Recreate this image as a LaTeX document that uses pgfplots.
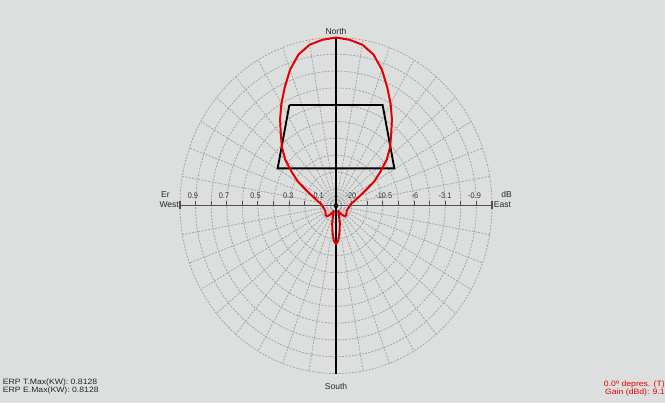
\documentclass[border=0pt]{standalone}
\usepackage{fontspec}
\setmainfont{Liberation Sans}
\newfontfamily\widef[FakeStretch=1.12]{Liberation Sans}
\newfontfamily\narrowf[FakeStretch=0.9]{Liberation Sans}
\usepackage{pgfplots}
\pgfplotsset{compat=1.18}
\definecolor{bg}{RGB}{221,223,223}
\definecolor{gridc}{RGB}{165,165,165}
\definecolor{pat}{RGB}{228,0,0}
\definecolor{axc}{RGB}{80,80,80}
\begin{document}
\begin{tikzpicture}
\begin{axis}[
  width=498.75pt, height=302.25pt, scale only axis,
  xmin=-2.1538, xmax=2.1090, ymin=-1.1756, ymax=1.2232,
  axis lines=none, ticks=none, clip=false,
]
\fill[bg] (rel axis cs:0,0) rectangle (rel axis cs:1,1);
% grid circles
\pgfplotsinvokeforeach{0.1,0.2,0.3,0.4,0.5,0.6,0.7,0.8,0.9,1.0}{
  \draw[gridc, line width=0.6pt, dash pattern=on 1.5pt off 1pt] (axis cs:0,0) ellipse [x radius=#1, y radius=#1];
}
% radial lines
\pgfplotsinvokeforeach{10,20,30,40,50,60,70,80,100,110,120,130,140,150,160,170,190,200,210,220,230,240,250,260,280,290,300,310,320,330,340,350}{
  \draw[gridc, line width=0.6pt, dash pattern=on 1.5pt off 1pt] (axis cs:{0.03*cos(#1)},{0.03*sin(#1)}) -- (axis cs:{cos(#1)},{sin(#1)});
}
% horizontal axis
\draw[axc, line width=1.4pt] (axis cs:-1,0) -- (axis cs:1,0);
\pgfplotsinvokeforeach{-0.9,-0.8,-0.7,-0.6,-0.5,-0.4,-0.3,-0.2,-0.1,0.1,0.2,0.3,0.4,0.5,0.6,0.7,0.8,0.9}{
  \draw[axc, line width=0.75pt] (axis cs:#1,0) -- ++(0pt,3.5pt);
}
\draw[axc, line width=0.9pt] (axis cs:-1,0) ++(0pt,-3pt) -- ++(0pt,6.5pt);
\draw[axc, line width=0.9pt] (axis cs:1,0) ++(0pt,-3pt) -- ++(0pt,6.5pt);
% vertical axis
\draw[black, line width=0.8pt] (axis cs:0,1) -- (axis cs:0,-1);
% mask
\addplot[black, line width=1.4pt] coordinates {(-0.299,0.598) (0.299,0.598) (0.374,0.221) (-0.374,0.221) (-0.299,0.598)};
% pattern
\addplot[pat, line width=1.5pt, data cs=polar, line join=round] coordinates {
(0,0.09) (5,0.095) (10,0.11) (15,0.13) (20,0.16) (25,0.205) (30,0.28) (35,0.345) (40,0.425) (45,0.49) (50,0.55) (55,0.625) (60,0.70) (65,0.777) (70,0.86) (75,0.93) (80,0.972) (85,0.99) (90,1.0)
(95,0.99) (100,0.972) (105,0.93) (110,0.86) (115,0.777) (120,0.70) (125,0.625) (130,0.55) (135,0.49) (140,0.425) (145,0.345) (150,0.28) (155,0.205) (160,0.16) (165,0.13) (170,0.11) (175,0.095) (180,0.09)
(192,0.08) (205,0.075) (218,0.085) (228,0.088) (238,0.06) (246,0.035) (252,0.06) (257,0.11) (262,0.16) (266,0.21) (270,0.23) (274,0.21) (278,0.16) (283,0.11) (288,0.06) (294,0.035) (302,0.06) (312,0.088) (322,0.085) (335,0.075) (348,0.08) (360,0.09)
};
\addplot[black, only marks, mark=*, mark size=1.6pt] coordinates {(0,0)};
% labels
\tikzset{lbl/.style={inner sep=0pt, font=\fontsize{6.4pt}{7pt}\selectfont, text=black!85}}
\tikzset{tl/.style={inner sep=0pt, anchor=base, font=\narrowf\fontsize{6.1pt}{7pt}\selectfont, text=black!80}}
\node[lbl, anchor=base] at (axis cs:0,1.019) {North};
\node[lbl, anchor=base] at (axis cs:0,-1.098) {South};
\node[lbl, anchor=base west] at (axis cs:-1.122,0.048) {Er};
\node[lbl, anchor=base east] at (axis cs:-1.006,-0.009) {West};
\node[lbl, anchor=base west] at (axis cs:1.058,0.048) {dB};
\node[lbl, anchor=base west] at (axis cs:1.010,-0.009) {East};
\node[tl] at (axis cs:-0.917,0.043) {0.9};
\node[tl] at (axis cs:-0.718,0.043) {0.7};
\node[tl] at (axis cs:-0.516,0.043) {0.5};
\node[tl] at (axis cs:-0.306,0.043) {0.3};
\node[tl] at (axis cs:-0.111,0.043) {0.1};
\node[tl] at (axis cs:0.096,0.043) {-20};
\node[tl] at (axis cs:0.306,0.043) {-10.5};
\node[tl] at (axis cs:0.506,0.043) {-6};
\node[tl] at (axis cs:0.699,0.043) {-3.1};
\node[tl] at (axis cs:0.888,0.043) {-0.9};
\tikzset{bt/.style={inner sep=0pt, font=\widef\fontsize{5.8pt}{6pt}\selectfont}}
\node[bt, anchor=base west, text=black!85] at (axis cs:-2.137,-1.068) {ERP T.Max(KW): 0.8128};
\node[bt, anchor=base west, text=black!85] at (axis cs:-2.137,-1.116) {ERP E.Max(KW): 0.8128};
\node[bt, anchor=base east, text=pat] at (axis cs:2.109,-1.077) {0.0º depres. (T)};
\node[bt, anchor=base east, text=pat] at (axis cs:2.109,-1.125) {Gain (dBd): 9.1};
\end{axis}
\end{tikzpicture}
\end{document}
